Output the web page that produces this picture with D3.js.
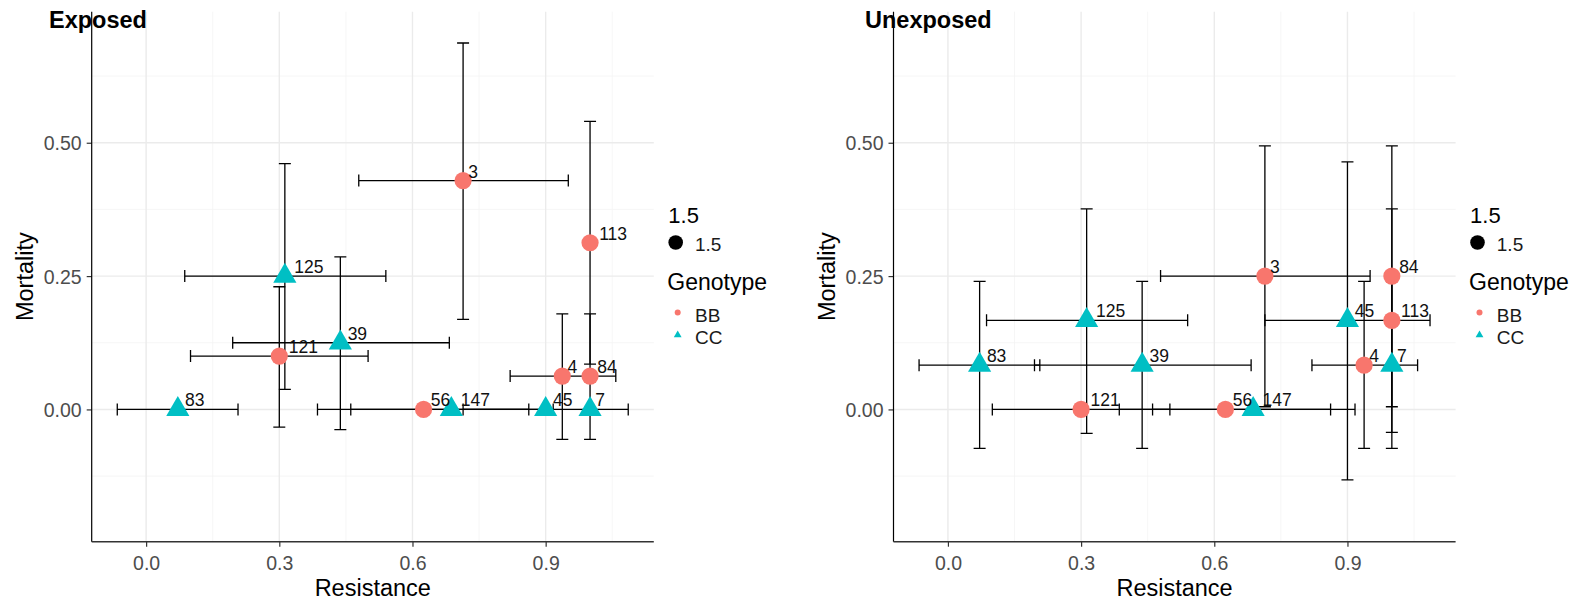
<!DOCTYPE html>
<html>
<head>
<meta charset="utf-8">
<script src="https://cdn.jsdelivr.net/npm/d3@7"></script>
<style>
  html, body { margin: 0; padding: 0; background: #fff; }
  svg { display: block; font-family: "Liberation Sans", Arial, sans-serif; }
</style>
</head>
<body>
<svg id="chart" width="1583" height="605"></svg>
<script>
// ---------------- data ----------------
const ids       = ["3", "113", "125", "121", "39", "4", "84", "83", "56", "147", "45", "7"];
const genotype  = ["BB", "BB", "CC", "BB", "CC", "BB", "BB", "CC", "BB", "CC", "CC", "CC"];
const resistance = [0.714, 1.0, 0.3125, 0.30, 0.4375, 0.9375, 1.0, 0.0714, 0.625, 0.6875, 0.90, 1.0];
const resLow     = [0.479, null, 0.087, 0.10, 0.195, 0.820, null, -0.065, 0.386, 0.461, 0.714, null];
const resHigh    = [0.951, null, 0.540, 0.50, 0.683, 1.058, null, 0.207, 0.862, 0.917, 1.086, null];

const mortExposed     = [0.429, 0.3125, 0.25, 0.10, 0.125, 0.0625, 0.0625, 0, 0, 0, 0, 0];
const mortExposedLow  = [0.169, 0.085, 0.0375, -0.033, -0.038, -0.056, -0.056, null, null, null, null, null];
const mortExposedHigh = [0.687, 0.540, 0.461, 0.230, 0.286, 0.179, 0.179, null, null, null, null, null];

const mortUnexposed     = [0.25, 0.167, 0.167, 0, 0.083, 0.083, 0.25, 0.083, 0, 0, 0.167, 0.083];
const mortUnexposedLow  = [0.005, -0.043, -0.045, null, -0.073, -0.073, 0.005, -0.073, null, null, -0.132, -0.073];
const mortUnexposedHigh = [0.494, 0.376, 0.376, null, 0.240, 0.240, 0.494, 0.240, null, null, 0.464, 0.240];

const xTicks = [0.0, 0.3, 0.6, 0.9];
const xTickLabels = ["0.0", "0.3", "0.6", "0.9"];
const yTicks = [0.00, 0.25, 0.50];
const yTickLabels = ["0.00", "0.25", "0.50"];
const xMinor = [0.15, 0.45, 0.75, 1.05];
const yMinor = [-0.125, 0.125, 0.375, 0.625];
const genotypes = ["BB", "CC"];
const genoColors = ["#F8766D", "#00BFC4"];
const panelTitles = ["Exposed", "Unexposed"];

// ---------------- layout ----------------
const svg = d3.select("#chart");
const W = 562.1, panelTop = 11.7, panelBottom = 541.7;
const xDomain = [-0.1226, 1.1436], yDomain = [-0.248, 0.7457];
const color = d3.scaleOrdinal().domain(genotypes).range(genoColors);
const R = 8.6;

function trianglePath(r) {
  const t = r * 1.555, b = r * 0.7776, hw = r * 1.3468;
  return `M0,${-t}L${hw},${b}L${-hw},${b}Z`;
}

const panels = [
  { title: panelTitles[0], x0: 91.7, titleX: 49, mort: mortExposed, lo: mortExposedLow, hi: mortExposedHigh },
  { title: panelTitles[1], x0: 893.5, titleX: 865, mort: mortUnexposed, lo: mortUnexposedLow, hi: mortUnexposedHigh }
];

panels.forEach((p, pi) => {
  const x = d3.scaleLinear().domain(xDomain).range([p.x0, p.x0 + W]);
  const y = d3.scaleLinear().domain(yDomain).range([panelBottom, panelTop]);
  const g = svg.append("g");

  // grid
  g.selectAll(".xminor").data(xMinor).join("line")
    .attr("x1", d => x(d)).attr("x2", d => x(d)).attr("y1", panelTop).attr("y2", panelBottom)
    .attr("stroke", "#F4F4F4").attr("stroke-width", 0.8);
  g.selectAll(".yminor").data(yMinor).join("line")
    .attr("y1", d => y(d)).attr("y2", d => y(d)).attr("x1", p.x0).attr("x2", p.x0 + W)
    .attr("stroke", "#F4F4F4").attr("stroke-width", 0.8);
  g.selectAll(".xmajor").data(xTicks).join("line")
    .attr("x1", d => x(d)).attr("x2", d => x(d)).attr("y1", panelTop).attr("y2", panelBottom)
    .attr("stroke", "#EBEBEB").attr("stroke-width", 1.4);
  g.selectAll(".ymajor").data(yTicks).join("line")
    .attr("y1", d => y(d)).attr("y2", d => y(d)).attr("x1", p.x0).attr("x2", p.x0 + W)
    .attr("stroke", "#EBEBEB").attr("stroke-width", 1.4);

  // axes
  const xAxis = d3.axisBottom(x).tickValues(xTicks).tickFormat((d, i) => xTickLabels[i]).tickSize(5).tickPadding(10);
  const yAxis = d3.axisLeft(y).tickValues(yTicks).tickFormat((d, i) => yTickLabels[i]).tickSize(5).tickPadding(5);
  const gx = g.append("g").attr("transform", `translate(0,${panelBottom})`).call(xAxis);
  const gy = g.append("g").attr("transform", `translate(${p.x0},0)`).call(yAxis);
  [gx, gy].forEach(a => {
    a.select(".domain").remove();
    a.selectAll(".tick line").attr("stroke", "#333").attr("stroke-width", 1.2);
    a.selectAll(".tick text").attr("fill", "#4D4D4D").style("font-size", "19.5px")
      .style("font-family", "'Liberation Sans', Arial, sans-serif");
  });
  gx.selectAll(".tick text").attr("dy", null).attr("y", 28.5);
  gy.selectAll(".tick text").attr("dy", "0.36em");
  g.append("line").attr("x1", p.x0).attr("x2", p.x0).attr("y1", panelTop).attr("y2", panelBottom)
    .attr("stroke", "#000").attr("stroke-width", 1.2);
  g.append("line").attr("x1", p.x0).attr("x2", p.x0 + W).attr("y1", panelBottom).attr("y2", panelBottom)
    .attr("stroke", "#333").attr("stroke-width", 1.4);

  // axis titles
  g.append("text").attr("x", p.x0 + W / 2).attr("y", 596).attr("text-anchor", "middle")
    .style("font-size", "23.5px").attr("fill", "#000").text("Resistance");
  g.append("text").attr("transform", `translate(${p.x0 - 58.4},${(panelTop + panelBottom) / 2}) rotate(-90)`)
    .attr("text-anchor", "middle").style("font-size", "23.5px").attr("fill", "#000").text("Mortality");

  const rows = ids.map((id, i) => ({
    id, geno: genotype[i], x: resistance[i], xl: resLow[i], xh: resHigh[i],
    y: p.mort[i], yl: p.lo[i], yh: p.hi[i]
  }));

  // error bars
  const cap = 6;
  const ve = g.append("g").attr("stroke", "#000").attr("stroke-width", 1.3).attr("fill", "none");
  rows.filter(r => r.yl !== null).forEach(r => {
    const cx = x(r.x);
    ve.append("path").attr("d",
      `M${cx - cap},${y(r.yh)}H${cx + cap}M${cx},${y(r.yh)}V${y(r.yl)}M${cx - cap},${y(r.yl)}H${cx + cap}`);
  });
  rows.filter(r => r.xl !== null).forEach(r => {
    const cy = y(r.y);
    ve.append("path").attr("d",
      `M${x(r.xl)},${cy - cap}V${cy + cap}M${x(r.xl)},${cy}H${x(r.xh)}M${x(r.xh)},${cy - cap}V${cy + cap}`);
  });

  // points
  const pts = g.append("g");
  rows.forEach(r => {
    if (r.geno === "BB") {
      pts.append("circle").attr("cx", x(r.x)).attr("cy", y(r.y)).attr("r", R).attr("fill", color(r.geno));
    } else {
      pts.append("path").attr("d", trianglePath(R))
        .attr("transform", `translate(${x(r.x)},${y(r.y)})`).attr("fill", color(r.geno));
    }
  });

  // labels
  const lab = g.append("g");
  rows.forEach(r => {
    const t = lab.append("text").attr("y", y(r.y) - 3).style("font-size", "17.5px").attr("fill", "#111").text(r.id);
    const w = t.node().getComputedTextLength();
    t.attr("x", x(r.x) + 3 + 0.22 * w);
  });

  // panel title
  svg.append("text").attr("x", p.titleX).attr("y", 28).style("font-size", "23.5px").style("font-weight", "bold")
    .attr("fill", "#000").text(p.title);

  // legend
  const lx = p.x0 + W + 14.5;
  const lg = svg.append("g");
  lg.append("text").attr("x", lx).attr("y", 223).style("font-size", "22px").attr("fill", "#000").text("1.5");
  lg.append("circle").attr("cx", lx + 7.4).attr("cy", 242.5).attr("r", 7.3).attr("fill", "#000");
  lg.append("text").attr("x", lx + 26.7).attr("y", 250.5).style("font-size", "19px").attr("fill", "#1a1a1a").text("1.5");
  lg.append("text").attr("x", lx - 1).attr("y", 290).style("font-size", "23px").attr("fill", "#000").text("Genotype");
  genotypes.forEach((gname, i) => {
    const cy = 312.5 + i * 22.5;
    if (gname === "BB") {
      lg.append("circle").attr("cx", lx + 9.4).attr("cy", cy).attr("r", 3).attr("fill", color(gname));
    } else {
      lg.append("path").attr("d", trianglePath(2.9)).attr("transform", `translate(${lx + 9.4},${cy})`).attr("fill", color(gname));
    }
    lg.append("text").attr("x", lx + 26.7).attr("y", cy + 9).style("font-size", "19px").attr("fill", "#1a1a1a").text(gname);
  });
});
</script>
</body>
</html>
